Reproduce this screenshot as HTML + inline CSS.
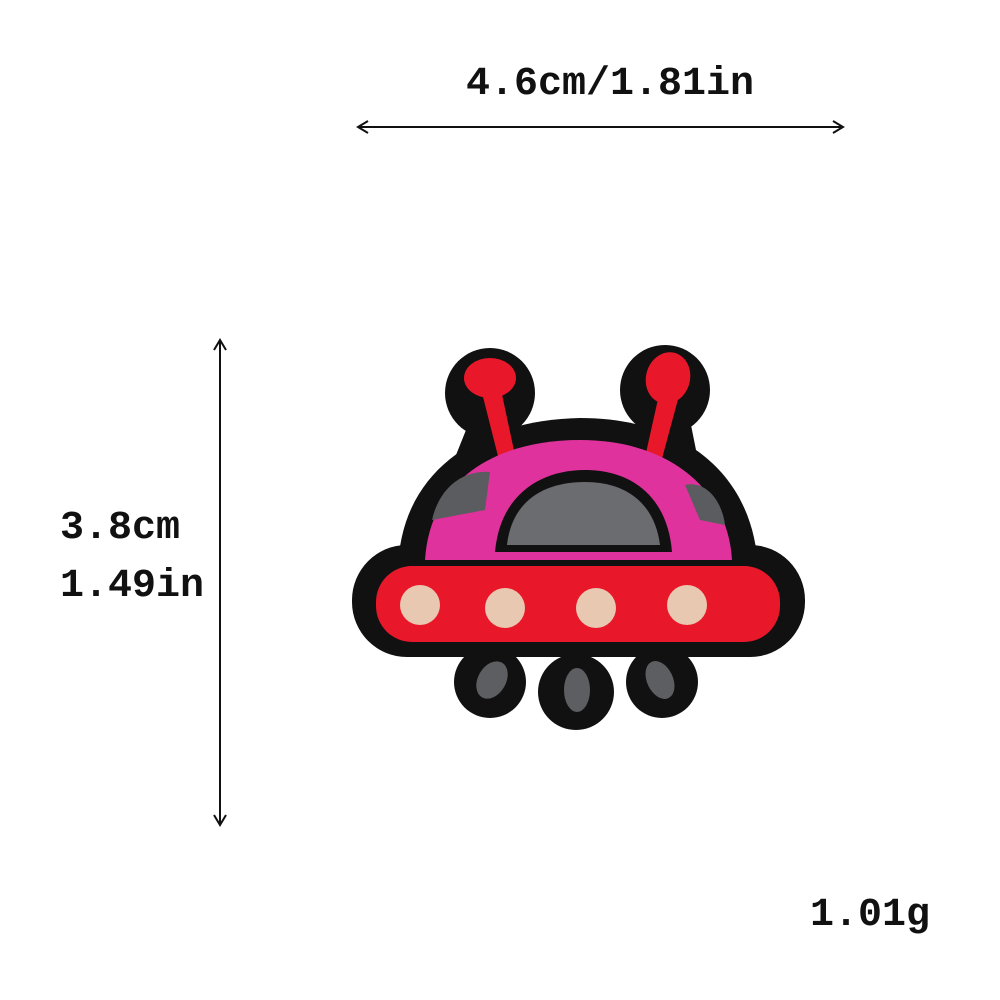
<!DOCTYPE html>
<html><head><meta charset="utf-8"><style>
html,body{margin:0;padding:0;background:#fff;}
svg{display:block}
text{font-family:"Liberation Mono","DejaVu Sans Mono",monospace;font-weight:bold;fill:#111}
</style></head><body>
<svg width="1000" height="1000" viewBox="0 0 1000 1000">
<defs>
<marker id="ah" markerWidth="14" markerHeight="14" refX="12" refY="7" orient="auto-start-reverse" markerUnits="userSpaceOnUse">
<path d="M2,1 L12,7 L2,13" fill="none" stroke="#111" stroke-width="2"/>
</marker>
</defs>
<text x="610" y="94" font-size="40" text-anchor="middle">4.6cm/1.81in</text>
<line x1="358" y1="127" x2="843" y2="127" stroke="#111" stroke-width="2" marker-start="url(#ah)" marker-end="url(#ah)"/>
<line x1="220" y1="340" x2="220" y2="825" stroke="#111" stroke-width="2" marker-start="url(#ah)" marker-end="url(#ah)"/>
<text x="60" y="538" font-size="40">3.8cm</text>
<text x="60" y="596" font-size="40">1.49in</text>
<text x="810" y="925" font-size="40">1.01g</text>

<g>
  <!-- black backing -->
  <g fill="#111">
    <circle cx="490" cy="393" r="45"/>
    <circle cx="665" cy="390" r="45"/>
    <path d="M470,420 L520,440 L640,440 L690,420 L700,470 L450,470 Z"/>
    <path d="M398,570 C400,470 480,420 580,418 C690,418 755,480 758,570 Z"/>
    <rect x="352" y="545" width="453" height="112" rx="55"/>
    <circle cx="490" cy="682" r="36"/>
    <circle cx="576" cy="692" r="38"/>
    <circle cx="662" cy="682" r="36"/>
  </g>
  <!-- antennas -->
  <g fill="#e8182a">
    <ellipse cx="490" cy="378" rx="26" ry="20"/>
    <path d="M480,385 L500,385 L516,460 L500,464 Z"/>
    <ellipse cx="668" cy="378" rx="22" ry="26" transform="rotate(15 668 378)"/>
    <path d="M660,390 L680,392 L660,466 L644,462 Z"/>
  </g>
  <!-- pink dome -->
  <path d="M425,560 C430,480 495,440 580,440 C670,440 728,490 732,560 Z" fill="#e0329c"/>
  <!-- side windows -->
  <path d="M432,520 C440,485 465,470 490,472 L485,510 Z" fill="#5a5c60"/>
  <path d="M685,485 C705,480 722,500 725,525 L700,520 Z" fill="#5a5c60"/>
  <!-- center window -->
  <path d="M495,552 C500,495 540,470 585,470 C635,470 668,500 672,552 Z" fill="#111"/>
  <path d="M507,545 C512,500 545,482 585,482 C628,482 655,505 660,545 Z" fill="#6a6c70"/>
  <!-- red band -->
  <rect x="376" y="566" width="404" height="76" rx="36" fill="#e8182a"/>
  <!-- lights -->
  <g fill="#e8c8b0">
    <circle cx="420" cy="605" r="20"/>
    <circle cx="505" cy="608" r="20"/>
    <circle cx="596" cy="608" r="20"/>
    <circle cx="687" cy="605" r="20"/>
  </g>
  <!-- legs -->
  <g fill="#5c5e62">
    <ellipse cx="492" cy="680" rx="14" ry="20" transform="rotate(30 492 680)"/>
    <ellipse cx="577" cy="690" rx="13" ry="22"/>
    <ellipse cx="660" cy="680" rx="13" ry="20" transform="rotate(-25 660 680)"/>
  </g>
</g>
</svg>
</body></html>
